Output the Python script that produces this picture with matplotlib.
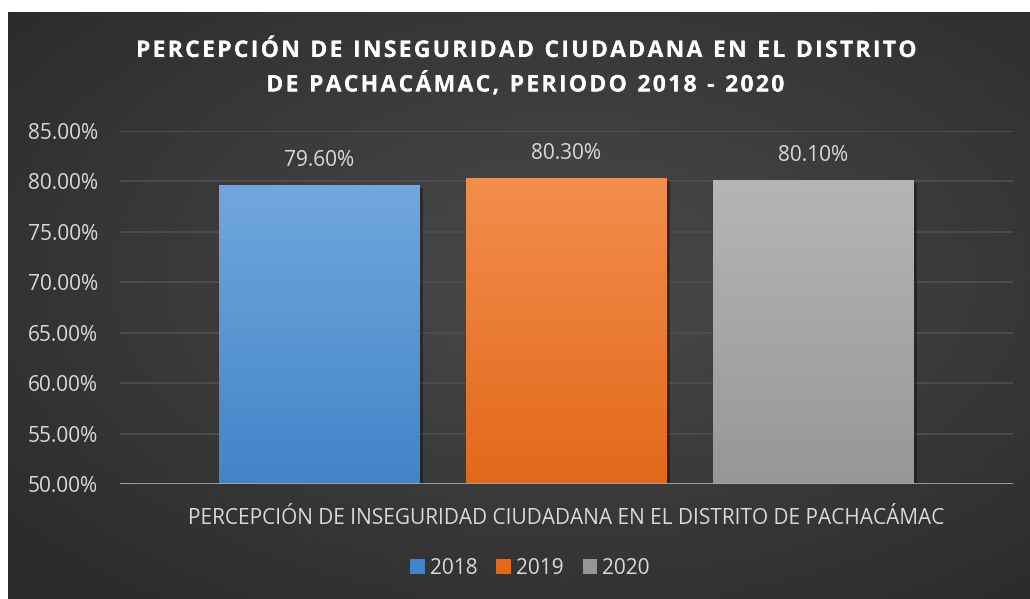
import numpy as np
import matplotlib.pyplot as plt
import matplotlib.patheffects as pe
from matplotlib.patches import Patch
from matplotlib.colors import LinearSegmentedColormap

plt.rcParams['font.family'] = ['Open Sans', 'DejaVu Sans']

# data
years = ['2018', '2019', '2020']
values = [79.6, 80.3, 80.1]
category = 'PERCEPCIÓN DE INSEGURIDAD CIUDADANA EN EL DISTRITO DE PACHACÁMAC'
yticks = [50, 55, 60, 65, 70, 75, 80, 85]
title_lines = ['PERCEPCIÓN DE INSEGURIDAD CIUDADANA EN EL DISTRITO',
               'DE PACHACÁMAC, PERIODO 2018 - 2020']

# top / bottom colours of each bar gradient
grad = [('#70a7dd', '#4384c8'), ('#f38d4c', '#e2691b'), ('#b5b5b5', '#979797')]
txt = '#d9d9d9'

fig = plt.figure(figsize=(10.3, 5.99), dpi=100, facecolor='white')

# dark radial background
bg = fig.add_axes([8 / 1030, 0, 1 - 8 / 1030, 1 - 12 / 599])
bg.axis('off')
yy, xx = np.mgrid[0:1:300j, 0:1:500j]
r = np.sqrt(((xx - 0.55) / 0.75) ** 2 + ((yy - 0.45) / 0.75) ** 2)
r = np.clip(r, 0, 1)
bgmap = LinearSegmentedColormap.from_list('bg', ['#4a4a4a', '#3a3a3a', '#2a2a2a'])
bg.imshow(r, cmap=bgmap, aspect='auto', extent=[0, 1, 0, 1], origin='upper')

ax = fig.add_axes([120 / 1030, 115 / 599, 893 / 1030, 353 / 599])
ax.set_facecolor('none')

step = 0.2766
width = 0.225
xs = (np.arange(len(values)) - 1) * step

ax.set_yticks(yticks)
ax.set_yticklabels([f'{v:.2f}%' for v in yticks])
for y in yticks[1:]:
    ax.axhline(y, color='#505050', lw=1.2, zorder=0)

bars = ax.bar(xs, [v - 50 for v in values], bottom=50, width=width, zorder=2,
              color='none', edgecolor='none')
for b, (c1, c2), v in zip(bars, grad, values):
    b.set_facecolor(c2)
    b.set_path_effects([pe.withSimplePatchShadow(offset=(2, -2), shadow_rgbFace='black', alpha=0.35), pe.Normal()])
    cm = LinearSegmentedColormap.from_list('g', [c2, c1])
    x0 = b.get_x()
    img = ax.imshow(np.linspace(0, 1, 100).reshape(-1, 1), cmap=cm, aspect='auto',
                    extent=[x0, x0 + width, 50, v], origin='lower', zorder=3)
    img.set_clip_path(b)
    ax.text(b.get_x() + width / 2, v + 1.45, f'{v:.2f}%', ha='center', va='bottom',
            color=txt, fontsize=15)

ax.axhline(50, color='#a6a6a6', lw=2, zorder=4)
ax.set_xlim(-0.5, 0.5)
ax.set_ylim(50, 85)

ax.set_xticks([0])
ax.set_xticklabels([category])
ax.tick_params(axis='x', length=0, pad=17, labelsize=15, labelcolor=txt)
ax.tick_params(axis='y', length=0, pad=16, labelsize=15, labelcolor=txt)
for s in ax.spines.values():
    s.set_visible(False)

# wide letter spacing of the title, done with hair spaces
hs = '\u200a'
for i, line in enumerate(title_lines):
    fig.text(524 / 1030, 1 - (51 + 34 * i) / 599, hs.join(line), ha='center', va='center',
             color='white', fontsize=16.5, fontweight='bold',
             path_effects=[pe.withSimplePatchShadow(offset=(1, -1), alpha=0.4), pe.Normal()])

handles = [Patch(facecolor=c2, edgecolor='none', label=y) for (c1, c2), y in zip(grad, years)]
leg = fig.legend(handles=handles, loc='center', bbox_to_anchor=(530 / 1030, 1 - 568 / 599),
                 ncol=3, frameon=False, fontsize=15, handlelength=0.7, handleheight=0.7,
                 handletextpad=0.25, columnspacing=0.9)
for t in leg.get_texts():
    t.set_color(txt)

fig.savefig('out.png', dpi=100, facecolor='white')
